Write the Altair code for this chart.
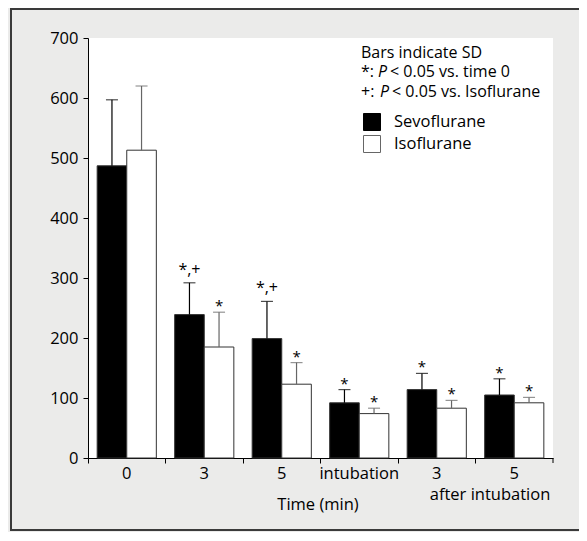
import altair as alt
import pandas as pd

# ---- data ----
categories = [0, 1, 2, 3, 4, 5]
tick_labels = ["0", "3", "5", "intubation", "3", "5"]
series = ["Sevoflurane", "Isoflurane"]
sevo_mean = [487, 239, 199, 92, 114, 105]
sevo_sd = [110, 53, 62, 22, 27, 27]
iso_mean = [513, 185, 123, 74, 83, 92]
iso_sd = [107, 58, 36, 9, 13, 9]
sevo_sig = ["", "*,+", "*,+", "*", "*", "*"]
iso_sig = ["", "*", "*", "*", "*", "*"]

rows = []
for i, c in enumerate(categories):
    rows.append({"idx": c, "group": series[0], "mean": sevo_mean[i],
                 "top": sevo_mean[i] + sevo_sd[i], "sig": sevo_sig[i]})
    rows.append({"idx": c, "group": series[1], "mean": iso_mean[i],
                 "top": iso_mean[i] + iso_sd[i], "sig": iso_sig[i]})
df = pd.DataFrame(rows)

FONT = "Open Sans"
FS = 16.5
W, H = 465, 420
label_expr = "[" + ",".join("'%s'" % s for s in tick_labels) + "][datum.value]"

x_enc = alt.X("idx:O", scale=alt.Scale(paddingInner=0, paddingOuter=0),
              axis=alt.Axis(title=None, labelExpr=label_expr, bandPosition=0,
                            labelAngle=0, tickSize=5, labelPadding=2,
                            labelFontSize=FS, labelFont=FONT, labelColor="black",
                            domainColor="black", tickColor="black"))
xoff = alt.XOffset("group:N", sort=series,
                   scale=alt.Scale(paddingInner=0, paddingOuter=0.31))
y_scale = alt.Scale(domain=[0, 700], nice=False)
y_enc = alt.Y("mean:Q", scale=y_scale,
              axis=alt.Axis(title=None, values=list(range(0, 701, 50)),
                            labelExpr="datum.value % 100 == 0 ? datum.label : ''",
                            tickSize=5, labelPadding=5, labelFontSize=FS,
                            labelFont=FONT, labelColor="black",
                            domainColor="black", tickColor="black", grid=False))

base = alt.Chart(df)

bars = base.mark_bar(stroke="#333", strokeWidth=1).encode(
    x=x_enc, xOffset=xoff, y=y_enc,
    fill=alt.Fill("group:N", sort=series,
                  scale=alt.Scale(domain=series, range=["black", "white"]),
                  legend=alt.Legend(title=None, orient="none", legendX=275, legendY=75,
                                    symbolType="square", symbolSize=289,
                                    symbolStrokeColor="#555", symbolStrokeWidth=1,
                                    labelFont=FONT, labelFontSize=FS, labelColor="black",
                                    labelOffset=13, rowPadding=0, padding=0)),
)

err = base.mark_rule(strokeWidth=1.2).encode(
    x="idx:O", xOffset=xoff,
    y=alt.Y("mean:Q", scale=y_scale), y2="top:Q",
    stroke=alt.Stroke("group:N", sort=series,
                      scale=alt.Scale(domain=series, range=["black", "#666"]), legend=None),
)
caps = base.mark_tick(orient="horizontal", size=12, thickness=1.2).encode(
    x="idx:O", xOffset=xoff,
    y=alt.Y("top:Q", scale=y_scale),
    color=alt.Color("group:N", sort=series,
                    scale=alt.Scale(domain=series, range=["black", "#666"]), legend=None),
)
star = base.transform_filter("datum.sig == '*'").mark_text(
    font=FONT, fontSize=15, baseline="alphabetic", dy=-1, color="black").encode(
    x="idx:O", xOffset=xoff, y=alt.Y("top:Q", scale=y_scale), text="sig:N")
starplus = base.transform_filter("datum.sig == '*,+'").mark_text(
    font=FONT, fontSize=16, baseline="alphabetic", dy=-8, color="black").encode(
    x="idx:O", xOffset=xoff, y=alt.Y("top:Q", scale=y_scale), text="sig:N")

one = pd.DataFrame({"k": [0]})
NS = 16


def txt(s, x, y, italic=False, align="left", size=FS):
    kw = dict(text=s, font=FONT, fontSize=size, align=align, baseline="middle", color="black")
    if italic:
        kw["fontStyle"] = "italic"
    return alt.Chart(one).mark_text(**kw).encode(x=alt.value(x), y=alt.value(y))


notes = [
    txt("Bars indicate SD", 273, 14.5, size=NS),
    txt("*:", 273, 34, size=NS), txt("P", 290, 34, italic=True, size=NS),
    txt("< 0.05 vs. time 0", 302, 34, size=NS),
    txt("+:", 273, 53.5, size=NS), txt("P", 292, 53.5, italic=True, size=NS),
    txt("< 0.05 vs. Isoflurane", 304, 53.5, size=NS),
    txt("after intubation", 402, 457, align="center"),
    txt("Time (min)", 230, 467, align="center"),
]

end_tick = alt.Chart(one).mark_rule(color="black").encode(
    x=alt.value(W), y=alt.value(H), y2=alt.value(H + 5))

frame = alt.Chart(one).mark_rect(fill="transparent", stroke="#3a3a3a", strokeWidth=2).encode(
    x=alt.value(-77), x2=alt.value(520), y=alt.value(-29), y2=alt.value(492))

chart = alt.layer(frame, bars, err, caps, star, starplus, end_tick, *notes).properties(
    width=W, height=H,
    autosize=alt.AutoSizeParams(type="none"),
    padding={"left": 80, "top": 30, "right": 26, "bottom": 74},
    background="#ebebea",
).configure_view(fill="white", strokeWidth=0)

chart.save("out.html", embed_options={"renderer": "svg", "actions": False})
